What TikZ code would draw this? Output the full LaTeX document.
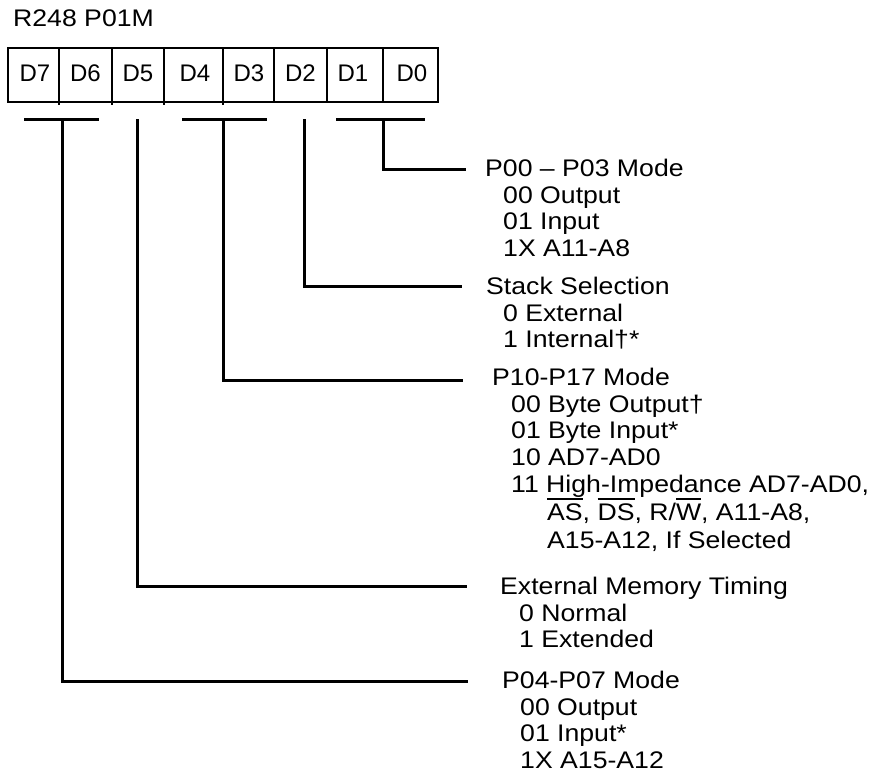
\documentclass[tikz,border=0pt]{standalone}
\usepackage{fontspec}
\setmainfont{Liberation Sans}
\newfontfamily\widefont[FakeStretch=1.11]{Liberation Sans}
\newcommand\myovl[1]{\setbox0\hbox{#1}\rlap{\raisebox{\dimexpr\ht0+3pt\relax}{\rule{\wd0}{2.2pt}}}\box0}
\begin{document}
\begin{tikzpicture}[x=1pt,y=-1pt,
  every node/.style={inner sep=0pt,font=\fontsize{24}{26.5}\selectfont},
  txt/.style={anchor=base west,font=\widefont\fontsize{24}{26.5}\selectfont},
  cell/.style={anchor=base},
  boxline/.style={line width=2pt},
  conn/.style={line width=3pt,line join=miter},
  bar/.style={line width=3pt}]
\useasboundingbox (0,0) rectangle (874,774);

% register name
\node[txt] (regname) at (13,26) {R248 P01M};

% register box
\draw[boxline] (8,48) rectangle (438,102);
\foreach \x in {59,112,164,223} \draw[boxline] (\x,48) -- (\x,105);
\foreach \x in {274,327,383} \draw[boxline] (\x,48) -- (\x,102);

\node[cell] (d7) at (35,81) {D7};
\node[cell] (d6) at (85.5,81) {D6};
\node[cell] (d5) at (138,81) {D5};
\node[cell] (d4) at (195,81) {D4};
\node[cell] (d3) at (249,81) {D3};
\node[cell] (d2) at (300.5,81) {D2};
\node[cell] (d1) at (353,81) {D1};
\node[cell] (d0) at (412,81) {D0};

% field brackets
\coordinate (b76l) at (24,119);  \coordinate (b76r) at (99,119);
\coordinate (b43l) at (182,119); \coordinate (b43r) at (267,119);
\coordinate (b10l) at (336,119); \coordinate (b10r) at (425,119);
\draw[bar] (b76l) -- (b76r);
\draw[bar] (b43l) -- (b43r);
\draw[bar] (b10l) -- (b10r);

\coordinate (t76) at (62,119);
\coordinate (t5)  at (137,119);
\coordinate (t43) at (223,119);
\coordinate (t2)  at (304,119);
\coordinate (t10) at (383,119);

\coordinate (e10) at (466,169);
\coordinate (e2)  at (462,286);
\coordinate (e43) at (463,380);
\coordinate (e5)  at (467,586);
\coordinate (e76) at (468,681);

\draw[conn] (t10) |- (e10);
\draw[conn] (t2)  |- (e2);
\draw[conn] (t43) |- (e43);
\draw[conn] (t5)  |- (e5);
\draw[conn] (t76) |- (e76);

% P00-P03
\node[txt] (a0) at (485,176.5) {P00 – P03 Mode};
\node[txt] (a1) at (503,203) {00 Output};
\node[txt] (a2) at (503,229.5) {01 Input};
\node[txt] (a3) at (503,256) {1X A11-A8};

% Stack selection
\node[txt] (s0) at (486,294.5) {Stack Selection};
\node[txt] (s1) at (503,321) {0 External};
\node[txt] (s2) at (503,347.5) {1 Internal†*};

% P10-P17
\node[txt] (p0) at (492,385.5) {P10-P17 Mode};
\node[txt] (p1) at (511,412) {00 Byte Output†};
\node[txt] (p2) at (511,438.5) {01 Byte Input*};
\node[txt] (p3) at (511,465) {10 AD7-AD0};
\node[txt] (p4) at (511,492) {11 High-Impedance AD7-AD0,};
\node[txt] (p5) at (547,520) {\myovl{AS}, \myovl{DS}, R/\myovl{W}, A11-A8,};
\node[txt] (p6) at (547,548) {A15-A12, If Selected};

% External memory timing
\node[txt] (m0) at (500,594.5) {External Memory Timing};
\node[txt] (m1) at (519,621) {0 Normal};
\node[txt] (m2) at (519,647.5) {1 Extended};

% P04-P07
\node[txt] (q0) at (502,688.5) {P04-P07 Mode};
\node[txt] (q1) at (520,715) {00 Output};
\node[txt] (q2) at (520,741.5) {01 Input*};
\node[txt] (q3) at (520,768) {1X A15-A12};
\end{tikzpicture}
\end{document}
